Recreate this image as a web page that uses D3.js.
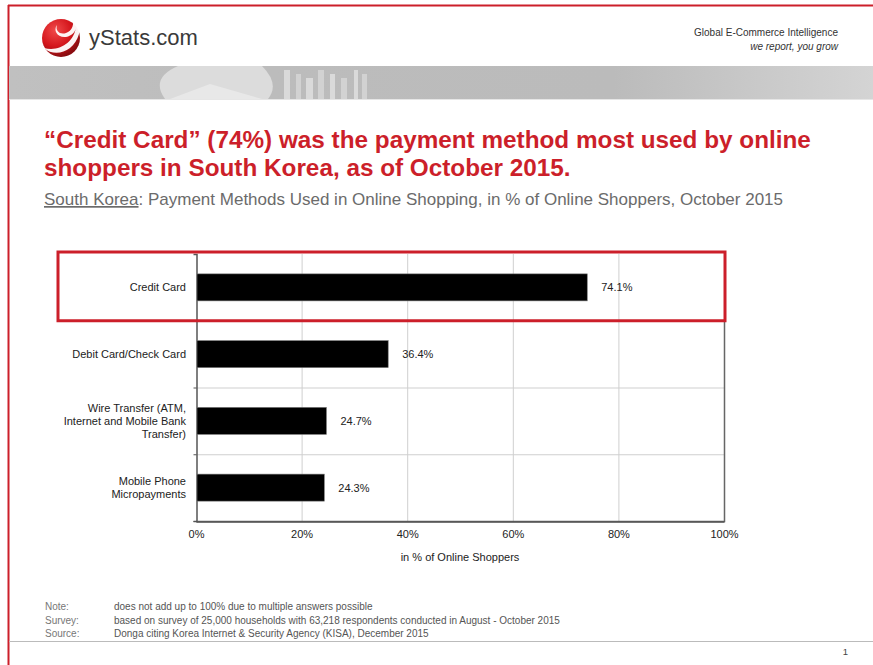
<!DOCTYPE html>
<meta charset="utf-8">
<head>
<script src="https://d3js.org/d3.v7.min.js"></script>
<style>
  body { margin: 0; background: #fff; }
  text { font-family: "Liberation Sans", Arial, sans-serif; }
</style>
</head>
<body>
<div id="chart"></div>
<script>
// data
var categories = [
  ["Credit Card"],
  ["Debit Card/Check Card"],
  ["Wire Transfer (ATM,", "Internet and Mobile Bank", "Transfer)"],
  ["Mobile Phone", "Micropayments"]
];
var values = [74.1, 36.4, 24.7, 24.3];
var xTicks = [0, 20, 40, 60, 80, 100];

var notes = [
  ["Note:", "does not add up to 100% due to multiple answers possible"],
  ["Survey:", "based on survey of 25,000 households with 63,218 respondents conducted in August - October 2015"],
  ["Source:", "Donga citing Korea Internet  & Security Agency (KISA), December 2015"]
];

var W = 873, H = 665;
var red = "#cc1f2a";
var svg = d3.select("#chart").append("svg").attr("width", W).attr("height", H);

// page frame
svg.append("line").attr("x1", 8).attr("x2", W).attr("y1", 5.5).attr("y2", 5.5)
  .attr("stroke", red).attr("stroke-width", 2);
svg.append("line").attr("x1", 8.5).attr("x2", 8.5).attr("y1", 5).attr("y2", H)
  .attr("stroke", red).attr("stroke-width", 2);

// logo
var defs = svg.append("defs");
var rg = defs.append("radialGradient").attr("id", "ball").attr("cx", "35%").attr("cy", "30%").attr("r", "70%");
rg.append("stop").attr("offset", "0%").attr("stop-color", "#f04a4a");
rg.append("stop").attr("offset", "60%").attr("stop-color", "#d4161c");
rg.append("stop").attr("offset", "100%").attr("stop-color", "#8a0c10");
svg.append("circle").attr("cx", 61).attr("cy", 38).attr("r", 19).attr("fill", "url(#ball)");
svg.append("path").attr("d", "M44,48 C55,58 74,52 79,34 C80,26 77,19 72,17 C75,24 72,31 66,33 C60,35 55,31 57,25 C53,30 57,38 66,37 C72,36 76,31 76,27 C74,42 60,52 44,48 Z")
  .attr("fill", "#fff").attr("opacity", 0.95);
svg.append("text").attr("x", 89).attr("y", 45).attr("font-size", 22)
  .attr("font-family", "'Open Sans', sans-serif").attr("fill", "#3a3a3a").text("yStats.com");

svg.append("text").attr("x", 838).attr("y", 36).attr("text-anchor", "end").attr("font-size", 10)
  .attr("font-family", "'Open Sans', sans-serif").attr("fill", "#333").text("Global E-Commerce Intelligence");
svg.append("text").attr("x", 838).attr("y", 50).attr("text-anchor", "end").attr("font-size", 10)
  .attr("font-style", "italic").attr("font-family", "'Open Sans', sans-serif").attr("fill", "#333").text("we report, you grow");

// banner
var bg = defs.append("linearGradient").attr("id", "band").attr("x1", 0).attr("x2", 1);
bg.append("stop").attr("offset", "0%").attr("stop-color", "#c0c0c0");
bg.append("stop").attr("offset", "30%").attr("stop-color", "#bcbcbc");
bg.append("stop").attr("offset", "70%").attr("stop-color", "#bbbbbb");
bg.append("stop").attr("offset", "100%").attr("stop-color", "#d4d4d4");
svg.append("rect").attr("x", 9).attr("y", 66).attr("width", W - 9).attr("height", 33).attr("fill", "url(#band)");
svg.append("path").attr("d", "M165,99 Q150,78 178,66 L262,66 Q280,84 268,99 Z").attr("fill", "#dcdcdc");
svg.append("path").attr("d", "M170,99 L210,84 L262,99 Z").attr("fill", "#e8e8e8");
[[284, 6], [296, 5], [306, 7], [318, 6], [330, 5], [341, 6], [354, 4], [362, 5]].forEach(function (d, i) {
  svg.append("rect").attr("x", d[0]).attr("y", 70 + (i % 3) * 4).attr("width", d[1]).attr("height", 29 - (i % 3) * 4)
    .attr("fill", i % 2 ? "#d2d2d2" : "#dadada");
});
svg.append("line").attr("x1", 9).attr("x2", W).attr("y1", 99.5).attr("y2", 99.5).attr("stroke", "#e6e6e6");

// titles
svg.append("text").attr("x", 44).attr("y", 148).attr("font-size", 24.3).attr("font-weight", "bold").attr("fill", red)
  .text("\u201cCredit Card\u201d (74%) was the payment method most used by online");
svg.append("text").attr("x", 44).attr("y", 176).attr("font-size", 24.3).attr("font-weight", "bold").attr("fill", red)
  .text("shoppers in South Korea, as of October 2015.");
var sub = svg.append("text").attr("x", 44).attr("y", 205).attr("font-size", 17).attr("fill", "#6b6b6b");
sub.append("tspan").attr("text-decoration", "underline").text("South Korea");
sub.append("tspan").text(": Payment Methods Used in Online Shopping, in % of Online Shoppers, October 2015");

// chart
var pLeft = 196, pRight = 724, pTop = 254, pBottom = 521;
var x = d3.scaleLinear().domain([0, 100]).range([pLeft, pRight]);
var y = d3.scaleBand().domain(d3.range(categories.length)).range([pTop, pBottom]).paddingInner(0).paddingOuter(0);

var g = svg.append("g");
g.selectAll(".vg").data(xTicks.slice(1, -1)).join("line")
  .attr("x1", d => x(d) + 0.5).attr("x2", d => x(d) + 0.5).attr("y1", pTop).attr("y2", pBottom)
  .attr("stroke", "#cfcfcf");
g.selectAll(".hg").data(d3.range(1, categories.length)).join("line")
  .attr("x1", pLeft).attr("x2", pRight).attr("y1", d => y(d) + 0.5).attr("y2", d => y(d) + 0.5)
  .attr("stroke", "#cfcfcf");

// frame
g.append("path").attr("d", "M" + (pRight + 0.5) + "," + (y(1)) + "V" + (pBottom + 0.5) + "H" + pLeft)
  .attr("fill", "none").attr("stroke", "#666").attr("stroke-width", 1.5);

var xAxis = d3.axisBottom(x).tickValues(xTicks).tickSize(0).tickPadding(9).tickFormat(d => d + "%");
g.append("g").attr("transform", "translate(0," + (pBottom + 0.5) + ")").call(xAxis)
  .call(a => a.select(".domain").attr("stroke", "#555").attr("stroke-width", 1.5))
  .call(a => a.selectAll("text").attr("font-size", 11).attr("fill", "#222").attr("font-family", "'Liberation Sans', Arial, sans-serif"));

var yAxis = d3.axisLeft(d3.scaleLinear().domain([0, categories.length]).range([pTop, pBottom]))
  .tickValues(d3.range(1, categories.length + 1)).tickSize(3).tickFormat("");
g.append("g").attr("transform", "translate(" + (pLeft + 0.5) + ",0)").call(yAxis)
  .call(a => a.select(".domain").attr("stroke", "#555").attr("stroke-width", 1.5))
  .call(a => a.selectAll(".tick line").attr("stroke", "#555"));

var barH = 27;
g.selectAll(".bar").data(values).join("rect")
  .attr("x", pLeft + 1).attr("y", (d, i) => y(i) + y.bandwidth() / 2 - barH / 2)
  .attr("width", d => x(d) - pLeft - 1).attr("height", barH)
  .attr("fill", "#000").attr("stroke", "#777").attr("stroke-width", 0.6);

g.selectAll(".val").data(values).join("text")
  .attr("x", d => x(d) + 14).attr("y", (d, i) => y(i) + y.bandwidth() / 2 + 4)
  .attr("font-size", 11).attr("fill", "#222").text(d => d.toFixed(1) + "%");

categories.forEach(function (lines, i) {
  var cy = y(i) + y.bandwidth() / 2;
  var t = g.append("text").attr("text-anchor", "end").attr("font-size", 11).attr("fill", "#222");
  lines.forEach(function (l, j) {
    t.append("tspan").attr("x", 186).attr("y", cy + 4 + (j - (lines.length - 1) / 2) * 13).text(l);
  });
});

g.append("text").attr("x", (pLeft + pRight) / 2).attr("y", 561).attr("text-anchor", "middle")
  .attr("font-size", 11).attr("fill", "#222").text("in % of Online Shoppers");

// highlight box
g.append("rect").attr("x", 58).attr("y", 252).attr("width", pRight - 58 + 1).attr("height", y(1) - 252)
  .attr("fill", "none").attr("stroke", red).attr("stroke-width", 3);

// footnotes
notes.forEach(function (n, i) {
  svg.append("text").attr("x", 45).attr("y", 610 + i * 13.5).attr("font-size", 10).attr("fill", "#777").text(n[0]);
  svg.append("text").attr("x", 114).attr("y", 610 + i * 13.5).attr("font-size", 10).attr("fill", "#555").text(n[1]);
});
svg.append("line").attr("x1", 9).attr("x2", W).attr("y1", 641.5).attr("y2", 641.5).attr("stroke", "#bbb");
svg.append("text").attr("x", 848).attr("y", 655).attr("text-anchor", "end").attr("font-size", 9.5).attr("fill", "#444").text("1");
</script>
</body>
